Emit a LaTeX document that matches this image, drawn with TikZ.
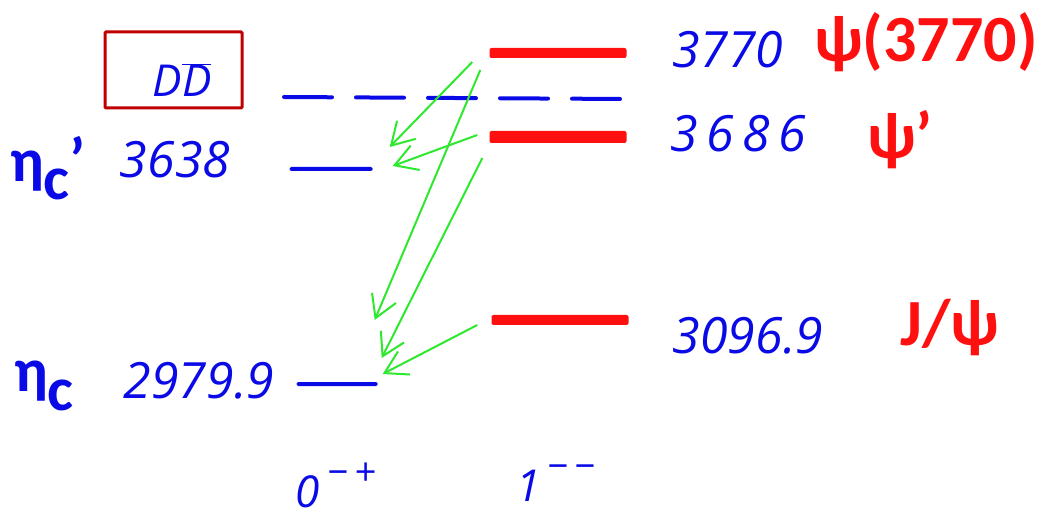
\documentclass[tikz,border=0pt]{standalone}
\usepackage{fontspec}
\setmainfont{Carlito}
\newfontfamily\handfont{Open Sans}
\usetikzlibrary{arrows.meta}
\definecolor{levelred}{HTML}{FF1010}
\definecolor{levelblue}{HTML}{0A0AE6}
\definecolor{boxred}{HTML}{C00000}
\definecolor{decaygreen}{HTML}{2EE82E}
\tikzset{vector level/.style={fill=levelred,rounded corners=2pt,minimum width=137pt,minimum height=10pt,inner sep=0pt},pseudo level/.style={fill=levelblue,rounded corners=1.5pt,minimum height=4pt,inner sep=0pt},threshold/.style={draw=levelblue,line width=4pt,line cap=round,dash pattern=on 48pt off 24pt},mass/.style={text=levelblue,font=\handfont\itshape\fontsize{50}{50}\selectfont,inner sep=0pt},jpc/.style={mass,font=\handfont\itshape\fontsize{44}{44}\selectfont},state/.style={text=levelred,font=\bfseries\fontsize{66}{66}\selectfont,inner sep=0pt},eta name/.style={text=levelblue,font=\bfseries\fontsize{62}{62}\selectfont,inner sep=0pt},decay/.style={draw=decaygreen,line width=2pt,-{Straight Barb[length=22pt,width=26pt,line width=2pt]}},threshold box/.style={draw=boxred,line width=3pt,rounded corners=1pt,minimum width=137pt,minimum height=76pt,inner sep=0pt}}
\newcommand{\dbar}{D$\overline{\hbox{\handfont\itshape D}}$}
\newcommand{\jpcsup}[1]{\raisebox{.5em}{\fontsize{38}{38}\selectfont#1}}

\begin{document}
\begin{tikzpicture}[x=1pt,y=-1pt]
 \useasboundingbox (0,0) rectangle (1038,518);
 % 1-- states
 \node[vector level] (lvl3770) at (558,53) {};
 \node[vector level,minimum height=12pt] (lvlpsip) at (558,137) {};
 \node[vector level] (lvljpsi) at (560,320) {};
 \node[mass] (m3770) at (728,50) {3770};
 \node[mass] (m3686) at (738,134) {3\,6\,8\,6};
 \node[mass] (m3097) at (748,336) {3096.9};
 \node[state] (psi3770) at (926,42) {ψ(3770)};
 \node[state] (psip) at (900,140) {ψ'};
 \node[state] (jpsi) at (950,328) {J/ψ};
 % 0-+ states
 \node[pseudo level,minimum width=83pt] (lvletacp) at (331,169) {};
 \node[pseudo level,minimum width=81pt] (lvletac) at (337,384) {};
 \node[mass] (m3638) at (175,160) {3638};
 \node[mass] (m2980) at (199,381) {2979.9};
 \node[eta name] (etacp) at (48,168) {η\raisebox{-.3em}{c}'};
 \node[eta name] (etac) at (44,386) {η\raisebox{-.3em}{c}};
 % open charm threshold
 \node[threshold box] (ddbox) at (173.5,70) {};
 \node[mass,font=\handfont\itshape\fontsize{44}{44}\selectfont] (ddbar) at (182,80) {\dbar};
 \coordinate (ddL) at (284,97);
 \coordinate (ddR) at (624,99);
 \draw[threshold] (ddL) -- (ddR);
 % quantum numbers
 \node[jpc] (jpc0) at (336,485) {0\,\jpcsup{−\,+}};
 \node[jpc] (jpc1) at (556,483) {1\,\jpcsup{−\,−}};
 % radiative decays
 \draw[decay] ([shift={(-17,9)}]lvl3770.west) -- ([shift={(17,-22)}]lvletacp.east);
 \draw[decay] ([shift={(-12,-2)}]lvlpsip.west) -- ([shift={(20,-3)}]lvletacp.east);
 \draw[decay] ([shift={(-9,17)}]lvl3770.west) -- ([shift={(-3,-64)}]lvletac.east);
 \draw[decay] ([shift={(-7,21)}]lvlpsip.west) -- ([shift={(4,-26)}]lvletac.east);
 \draw[decay] ([shift={(-14,5)}]lvljpsi.west) -- ([shift={(5,-10)}]lvletac.east);
\end{tikzpicture}
\end{document}
